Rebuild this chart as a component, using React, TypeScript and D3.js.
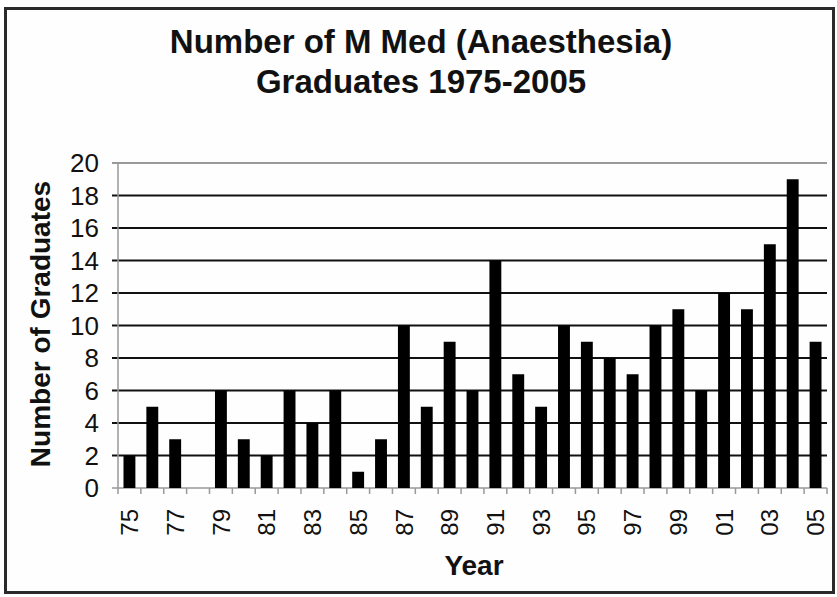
import React from "react";
import * as d3 from "d3";

const years = ["75","76","77","78","79","80","81","82","83","84","85","86","87","88","89","90","91","92","93","94","95","96","97","98","99","00","01","02","03","04","05"];
const graduates = [2,5,3,0,6,3,2,6,4,6,1,3,10,5,9,6,14,7,5,10,9,8,7,10,11,6,12,11,15,19,9];
const yTicks = [0,2,4,6,8,10,12,14,16,18,20];
const titleLines = ["Number of M Med (Anaesthesia)", "Graduates 1975-2005"];

export default function App() {
  const W = 837, H = 597;
  const left = 118, right = 827, top = 163, bottom = 488;
  const x = d3.scaleBand<string>().domain(years).range([left, right]).padding(0);
  const y = d3.scaleLinear().domain([0, 20]).range([bottom, top]);
  const bw = x.bandwidth();
  const barW = bw * 0.52;
  const font = "'Liberation Sans', Arial, sans-serif";
  return (
    <svg width={W} height={H} style={{ position: "absolute", left: 0, top: 0 }} fontFamily={font}>
      <rect x={0} y={0} width={W} height={H} fill="#fff" />
      <rect x={5.5} y={8.5} width={828} height={584} fill="#fefefe" stroke="#2a2a2a" strokeWidth={3} />
      {titleLines.map((t, i) => (
        <text key={i} x={421} y={53 + i * 40} textAnchor="middle" fontSize={33} fontWeight="bold" fill="#111">{t}</text>
      ))}
      {yTicks.map((v) => (
        <g key={v}>
          <line x1={left - 6} x2={right} y1={y(v)} y2={y(v)} stroke={v === 20 || v === 0 ? "#999" : "#111"} strokeWidth={v === 0 ? 1.5 : 2} />
          <text x={99} y={y(v)} dy="0.36em" textAnchor="end" fontSize={26} fill="#111">{v}</text>
        </g>
      ))}
      <line x1={left} x2={left} y1={top} y2={bottom} stroke="#999" strokeWidth={1.5} />
      {years.map((yr) => (
        <line key={"t" + yr} x1={(x(yr) as number)} x2={(x(yr) as number)} y1={bottom} y2={bottom + 6} stroke="#999" strokeWidth={1.5} />
      ))}
      <line x1={right} x2={right} y1={bottom} y2={bottom + 6} stroke="#999" strokeWidth={1.5} />
      {years.map((yr, i) => (
        <rect key={yr} x={(x(yr) as number) + (bw - barW) / 2} y={y(graduates[i])} width={barW} height={bottom - y(graduates[i])} fill="#000" />
      ))}
      {years.map((yr, i) => i % 2 === 0 ? (
        <text key={"l" + yr} transform={`translate(${(x(yr) as number) + bw / 2},${509}) rotate(-90)`} dy="0.36em" textAnchor="end" fontSize={24} fill="#111">{yr}</text>
      ) : null)}
      <text transform={`translate(40,${324}) rotate(-90)`} dy="0.36em" textAnchor="middle" fontSize={28} fontWeight="bold" fill="#111">Number of Graduates</text>
      <text x={474} y={575} textAnchor="middle" fontSize={28} fontWeight="bold" fill="#111">Year</text>
    </svg>
  );
}
